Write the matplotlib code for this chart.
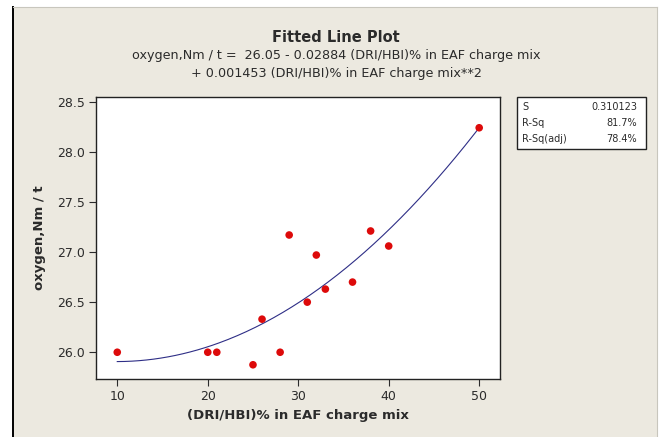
import numpy as np
import matplotlib
matplotlib.use("Agg")
import matplotlib.pyplot as plt
from matplotlib.patches import Rectangle
from matplotlib.lines import Line2D

# DRI/HBI share in EAF charge mix vs specific oxygen use
dri_pct = [10, 20, 21, 25, 26, 28, 29, 31, 32, 33, 36, 38, 40, 50]
oxygen = [26.00, 26.00, 26.00, 25.875, 26.33, 26.00, 27.17, 26.50, 26.97,
          26.63, 26.70, 27.21, 27.06, 28.24]

# quadratic fit: b0 + b1*x + b2*x^2
b0, b1, b2 = 26.05, -0.02884, 0.001453
fit_stats = [("S", "0.310123"), ("R-Sq", "81.7%"), ("R-Sq(adj)", "78.4%")]

xticks = [10, 20, 30, 40, 50]
yticks = [26.0, 26.5, 27.0, 27.5, 28.0, 28.5]

BG = "#ECE9E0"
TXT = "#2b2b2b"
plt.rcParams.update({"font.family": "DejaVu Sans"})

fig = plt.figure(figsize=(6.64, 4.37), dpi=100, facecolor="white")
W, H = 664, 437


def fx(px):
    return px / W


def fy(py):
    return 1 - py / H


# panel background with window-style edges
fig.patches.append(Rectangle((fx(13), 0), fx(657) - fx(13), fy(7), transform=fig.transFigure,
                             facecolor=BG, edgecolor="none", zorder=-2))
fig.lines.append(Line2D([fx(13), fx(13)], [0, fy(7)], transform=fig.transFigure,
                        color="black", linewidth=1.4, zorder=-1))
fig.lines.append(Line2D([fx(13), fx(657)], [fy(7), fy(7)], transform=fig.transFigure,
                        color="#c8c6bd", linewidth=0.8, zorder=-1))
fig.lines.append(Line2D([fx(657), fx(657)], [0, fy(7)], transform=fig.transFigure,
                        color="#c8c6bd", linewidth=0.8, zorder=-1))

ax = fig.add_axes([fx(96), fy(379), fx(500) - fx(96), fy(97) - fy(379)])
ax.set_zorder(1)
ax.set_facecolor("white")
ax.scatter(dri_pct, oxygen, s=30, color="#DD0A0A", edgecolor="none", zorder=3)
xs = np.linspace(min(dri_pct), max(dri_pct), 200)
ax.plot(xs, np.polyval([b2, b1, b0], xs), color="#2E2E86", linewidth=0.8, zorder=2)

ax.set_xlim(7.65, 52.3)
ax.set_ylim(25.733, 28.547)
ax.set_xticks(xticks)
ax.set_yticks(yticks)
ax.set_yticklabels([f"{v:.1f}" for v in yticks])
ax.tick_params(labelsize=9, colors=TXT, length=5, width=0.8, pad=3)
for sp in ax.spines.values():
    sp.set_linewidth(1.0)
    sp.set_color("#222222")
ax.set_xlabel("(DRI/HBI)% in EAF charge mix", fontsize=9.5, fontweight="bold", color=TXT,
              labelpad=4)
ax.set_ylabel("oxygen,Nm / t", fontsize=9.5, fontweight="bold", color=TXT, labelpad=8)

fig.text(fx(336), fy(38), "Fitted Line Plot", ha="center", va="center",
         fontsize=10.5, fontweight="bold", color=TXT)
fig.text(fx(336), fy(56), "oxygen,Nm / t =  26.05 - 0.02884 (DRI/HBI)% in EAF charge mix",
         ha="center", va="center", fontsize=9.2, color=TXT)
fig.text(fx(336), fy(74), "+ 0.001453 (DRI/HBI)% in EAF charge mix**2",
         ha="center", va="center", fontsize=9.2, color=TXT)

# fit summary box
fig.patches.append(Rectangle((fx(517), fy(149)), fx(646) - fx(517), fy(97) - fy(149),
                             transform=fig.transFigure, facecolor="white",
                             edgecolor="#222222", linewidth=1.0, zorder=2))
for i, (name, val) in enumerate(fit_stats):
    yy = fy(107 + 16 * i)
    fig.text(fx(522), yy, name, ha="left", va="center", fontsize=7, color=TXT, zorder=3)
    fig.text(fx(637), yy, val, ha="right", va="center", fontsize=7, color=TXT, zorder=3)

fig.savefig("out.png", dpi=100, facecolor="white")
